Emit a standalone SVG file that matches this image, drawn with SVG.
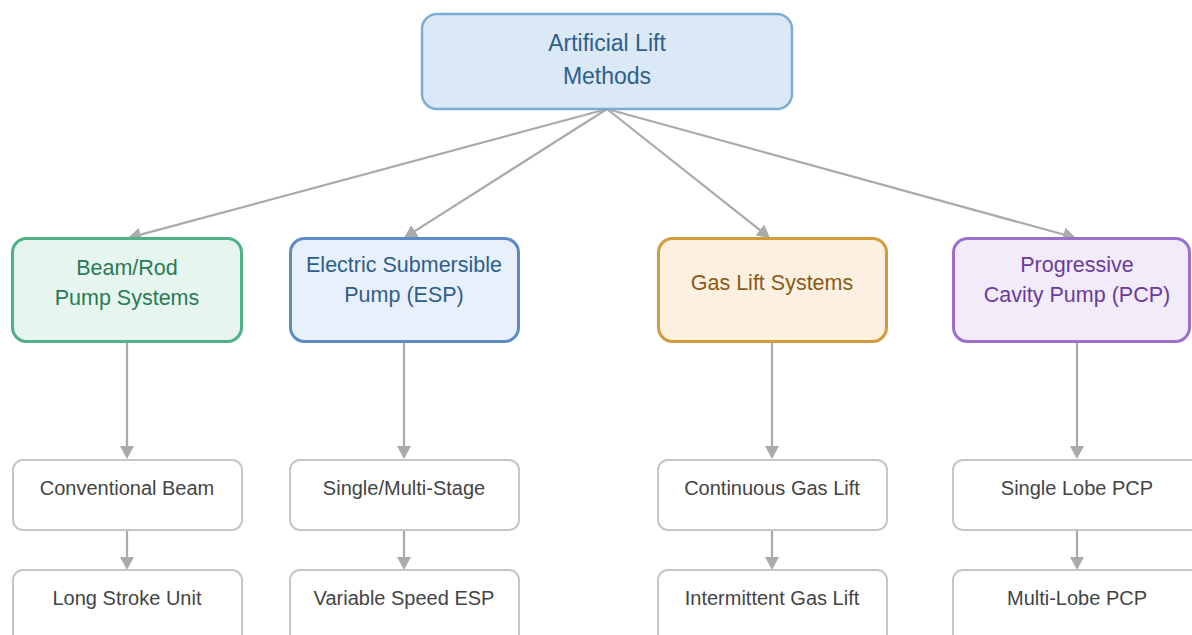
<svg xmlns="http://www.w3.org/2000/svg" width="1192" height="635" viewBox="0 0 1192 635">
  <style>
    text { font-family: "Liberation Sans", Arial, sans-serif; text-anchor: middle; }
    .root rect { fill: #dbe8f5; stroke: #7aaed6; stroke-width: 2.5; }
    .root text { fill: #2d5f8b; font-size: 23px; }
    .cat rect { stroke-width: 3; }
    .cat text { font-size: 21.5px; }
    .beam rect { fill: #e6f5ee; stroke: #4fb186; }
    .beam text { fill: #2a7a57; }
    .esp rect { fill: #e8f0fb; stroke: #5b8cc6; }
    .esp text { fill: #2d5f8b; }
    .gas rect { fill: #fcf1e1; stroke: #d29b3b; }
    .gas text { fill: #8a5a17; }
    .pcp rect { fill: #f2ecfa; stroke: #9b6fcc; }
    .pcp text { fill: #6b3a9c; }
    .leaf rect { fill: #ffffff; stroke: #c6c6c6; stroke-width: 2; }
    .leaf text { fill: #444444; font-size: 20px; }
    .edge { stroke: #aaaaaa; stroke-width: 2.2; fill: none; marker-end: url(#arrow); }
  </style>
  <defs>
    <marker id="arrow" markerUnits="userSpaceOnUse" markerWidth="14" markerHeight="14" refX="3" refY="7" orient="auto">
      <path d="M0,0 L13,7 L0,14 z" fill="#aaaaaa"/>
    </marker>
  </defs>

  <rect width="1192" height="635" fill="#ffffff"/>

  <!-- connectors -->
  <g id="edges">
    <line class="edge" x1="607" y1="109" x2="137.7" y2="235.4"/>
    <line class="edge" x1="607" y1="109" x2="412.4" y2="232.6"/>
    <line class="edge" x1="607" y1="109" x2="762.2" y2="231.8"/>
    <line class="edge" x1="607" y1="109" x2="1066.4" y2="235.3"/>

    <line class="edge" x1="127" y1="342" x2="127" y2="449"/>
    <line class="edge" x1="404" y1="342" x2="404" y2="449"/>
    <line class="edge" x1="772" y1="342" x2="772" y2="449"/>
    <line class="edge" x1="1077" y1="342" x2="1077" y2="449"/>

    <line class="edge" x1="127" y1="530" x2="127" y2="560"/>
    <line class="edge" x1="404" y1="530" x2="404" y2="560"/>
    <line class="edge" x1="772" y1="530" x2="772" y2="560"/>
    <line class="edge" x1="1077" y1="530" x2="1077" y2="560"/>
  </g>

  <!-- root -->
  <g id="root" class="root">
    <rect x="422" y="14" width="370" height="95" rx="15"/>
    <text x="607" y="51">Artificial Lift</text>
    <text x="607" y="84">Methods</text>
  </g>

  <!-- categories -->
  <g id="beam" class="cat beam">
    <rect x="12.5" y="238.5" width="229" height="103" rx="14"/>
    <text x="127" y="275">Beam/Rod</text>
    <text x="127" y="305">Pump Systems</text>
  </g>
  <g id="esp" class="cat esp">
    <rect x="290.5" y="238.5" width="228" height="103" rx="14"/>
    <text x="404" y="272">Electric Submersible</text>
    <text x="404" y="302">Pump (ESP)</text>
  </g>
  <g id="gas" class="cat gas">
    <rect x="658.5" y="238.5" width="228" height="103" rx="14"/>
    <text x="772" y="290">Gas Lift Systems</text>
  </g>
  <g id="pcp" class="cat pcp">
    <rect x="953.5" y="238.5" width="236" height="103" rx="14"/>
    <text x="1077" y="272">Progressive</text>
    <text x="1077" y="302">Cavity Pump (PCP)</text>
  </g>

  <!-- leaf level 1 -->
  <g id="conventional-beam" class="leaf">
    <rect x="13" y="460" width="229" height="70" rx="10"/>
    <text x="127" y="495">Conventional Beam</text>
  </g>
  <g id="single-multi-stage" class="leaf">
    <rect x="290" y="460" width="229" height="70" rx="10"/>
    <text x="404" y="495">Single/Multi-Stage</text>
  </g>
  <g id="continuous-gas-lift" class="leaf">
    <rect x="658" y="460" width="229" height="70" rx="10"/>
    <text x="772" y="495">Continuous Gas Lift</text>
  </g>
  <g id="single-lobe-pcp" class="leaf">
    <rect x="953" y="460" width="260" height="70" rx="10"/>
    <text x="1077" y="495">Single Lobe PCP</text>
  </g>

  <!-- leaf level 2 -->
  <g id="long-stroke-unit" class="leaf">
    <rect x="13" y="570" width="229" height="80" rx="10"/>
    <text x="127" y="605">Long Stroke Unit</text>
  </g>
  <g id="variable-speed-esp" class="leaf">
    <rect x="290" y="570" width="229" height="80" rx="10"/>
    <text x="404" y="605">Variable Speed ESP</text>
  </g>
  <g id="intermittent-gas-lift" class="leaf">
    <rect x="658" y="570" width="229" height="80" rx="10"/>
    <text x="772" y="605">Intermittent Gas Lift</text>
  </g>
  <g id="multi-lobe-pcp" class="leaf">
    <rect x="953" y="570" width="260" height="80" rx="10"/>
    <text x="1077" y="605">Multi-Lobe PCP</text>
  </g>
</svg>
